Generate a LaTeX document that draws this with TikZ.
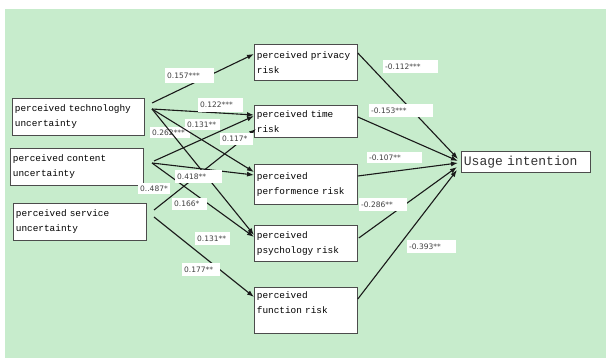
\documentclass[tikz,border=0pt]{standalone}
\usepackage{fontspec}
\newfontfamily\boxfont{Liberation Mono}
\newfontfamily\coeffont{DejaVu Sans}
\usetikzlibrary{arrows.meta,calc}
\definecolor{bggreen}{RGB}{199,236,204}
\begin{document}
\begin{tikzpicture}[x=1pt,y=-1pt,
  rbox/.style={draw=black!70, fill=white, line width=0.8pt, anchor=north west,
    inner xsep=2.5pt, inner ysep=0pt, align=left,
    font=\boxfont\fontsize{9.4}{15}\selectfont, text=black},
  coef/.style={fill=white, anchor=north west, inner xsep=2pt, inner ysep=0pt,
    align=left, font=\coeffont\fontsize{7.5}{9}\selectfont, text=black!75},
  conn/.style={line width=1.1pt, black!90, -{Latex[length=7pt,width=5pt]}}]
\useasboundingbox (0,0) rectangle (606,358);
\fill[white] (0,0) rectangle (606,358);
\fill[bggreen] (5,9) rectangle (606,358);
% source boxes
\node[rbox, text width=127pt, minimum height=37pt] (tech) at (12,98) {perceived technologhy\\uncertainty};
\node[rbox, text width=128pt, minimum height=37pt] (cont) at (10,148) {perceived content\\uncertainty};
\node[rbox, text width=128pt, minimum height=37pt] (serv) at (13,203) {perceived service\\uncertainty};
% risk boxes
\node[rbox, text width=98pt, minimum height=36pt] (priv) at (254,44) {perceived privacy\\risk};
\node[rbox, text width=98pt, minimum height=32pt] (time) at (254,105) {perceived time\\risk};
\node[rbox, text width=98pt, minimum height=40pt] (perf) at (254,164) {perceived\\performence risk};
\node[rbox, text width=98pt, minimum height=36pt] (psyc) at (254,225) {perceived\\psychology risk};
\node[rbox, text width=98pt, minimum height=46pt] (func) at (254,287) {perceived\\function risk\\\mbox{}};
% outcome
\node[rbox, text width=124pt, minimum height=21pt, font=\boxfont\fontsize{13}{15}\selectfont, text=black!80] (use) at (461,151) {Usage intention};
% start points of the connectors
\coordinate (tA) at (152,103);
\coordinate (tB) at (152,109);
\coordinate (cA) at (154,161);
\coordinate (cB) at (152,163);
\coordinate (sA) at (154,210);
\coordinate (sB) at (154,217);
% labels under lines
\node[coef, text width=31pt, minimum height=11pt] (l3) at (185,119) {0.131**};
\node[coef, text width=36pt, minimum height=11pt] (l4) at (150,127) {0.262***};
% connectors left
\draw[conn] (tA) -- ($(priv.north west)+(0,10)$);
\draw[conn] (tB) -- ($(time.north west)+(0,10)$);
\draw[conn] (tB) -- ($(perf.north west)+(0,8)$);
\draw[conn] (tB) -- ($(psyc.north west)+(0,10)$);
\draw[conn] (cA) -- ($(time.north west)+(0,11)$);
\draw[conn] (cB) -- ($(perf.north west)+(0,11)$);
\draw[conn] (cB) -- ($(psyc.north west)+(0,12)$);
\draw[conn] (sA) -- ($(time.north west)+(2,24)$);
\draw[conn] (sB) -- ($(func.north west)+(0,10)$);
% connectors right
\draw[conn] ($(priv.north east)+(0,9)$) -- ($(use.north west)+(-3,8)$);
\draw[conn] ($(time.north east)+(0,12)$) -- ($(use.north west)+(-3,10)$);
\draw[conn] ($(perf.north east)+(0,12)$) -- ($(use.north west)+(-3,12)$);
\draw[conn] ($(psyc.north east)+(1,13)$) -- ($(use.north west)+(-4,16)$);
\draw[conn] ($(func.north east)+(0,12)$) -- ($(use.north west)+(-4,19)$);
% labels
\node[coef, text width=45pt, minimum height=15pt] (l1) at (165,68) {0.157***};
\node[coef, text width=41pt, minimum height=14pt] (l2) at (198,98) {0.122***};
\node[coef, text width=29pt, minimum height=12pt] (l5) at (220,133) {0.117*};
\node[coef, text width=43pt, minimum height=13pt] (l6) at (175,170) {0.418**};
\node[coef, text width=28pt, minimum height=11pt] (l7) at (138,183) {0..487*};
\node[coef, text width=31pt, minimum height=12pt] (l8) at (172,198) {0.166*};
\node[coef, text width=31pt, minimum height=13pt] (l9) at (195,232) {0.131**};
\node[coef, text width=34pt, minimum height=13pt] (l10) at (182,263) {0.177**};
\node[coef, text width=51pt, minimum height=13pt] (l11) at (383,60) {-0.112***};
\node[coef, text width=60pt, minimum height=13pt] (l12) at (369,104) {-0.153***};
\node[coef, text width=51pt, minimum height=11pt] (l13) at (367,152) {-0.107**};
\node[coef, text width=44pt, minimum height=13pt] (l14) at (359,198) {-0.286**};
\node[coef, text width=45pt, minimum height=13pt] (l15) at (407,240) {-0.393**};
\end{tikzpicture}
\end{document}
